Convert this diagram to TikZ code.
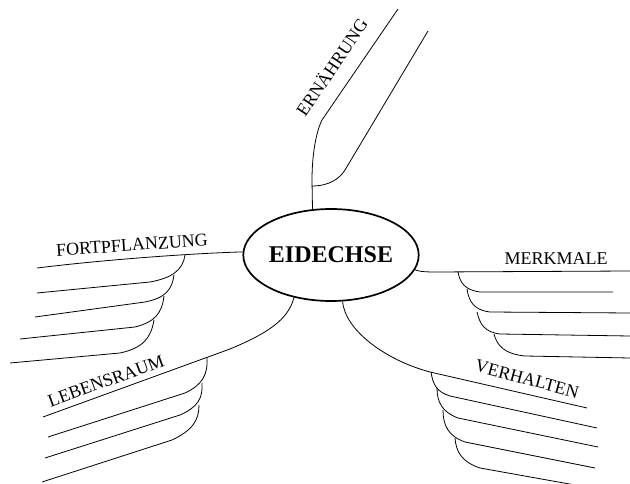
\documentclass[tikz,border=0pt]{standalone}
\usepackage{fontspec}
\setmainfont{Liberation Serif}
\usetikzlibrary{shapes.geometric}
\begin{document}
\begin{tikzpicture}[x=1pt,y=-1pt,
  branch/.style={line width=0.8pt,black},
  lbl/.style={font=\fontsize{18}{20}\selectfont,inner sep=0pt},
  hub/.style={ellipse,draw,line width=1.7pt,minimum width=158pt,minimum height=92pt,inner sep=0pt,font=\bfseries\fontsize{24}{26}\selectfont}]
\useasboundingbox (0,0) rectangle (630,484);
\fill[white] (0,0) rectangle (630,484);
\node[hub] (c) at (331,255) {EIDECHSE};

% labels
\node[lbl,rotate=56] (tE) at (331,67) {ERNÄHRUNG};
\node[lbl,rotate=4] (tF) at (132,245) {FORTPFLANZUNG};
\node[lbl,rotate=20] (tL) at (106,381) {LEBENSRAUM};
\node[lbl] (tM) at (556,259) {MERKMALE};
\node[lbl,rotate=-15] (tV) at (527,379) {VERHALTEN};

% coordinates
\coordinate (e0) at (312,186);
\coordinate (e1) at (428,31);
\coordinate (f1) at (185,255);
\coordinate (f2) at (174,275);
\coordinate (f3) at (164,296);
\coordinate (f4) at (154,320);
\coordinate (l1) at (207,358);
\coordinate (l2) at (202,383);
\coordinate (l3) at (199,405);
\coordinate (m1) at (458,272);
\coordinate (m2) at (467,289);
\coordinate (m3) at (477,312);
\coordinate (m4) at (494,334);
\coordinate (v1) at (431,372);
\coordinate (v2) at (437,388);
\coordinate (v3) at (443,410);
\coordinate (v4) at (455,438);

% Ernaehrung
\draw[branch] (c.112) -- (312,180) .. controls (312,155) and (316,132) .. (322,120) -- (398,9);
\draw[branch] (e0) .. controls (330,186) and (340,178) .. (345,170) -- (e1);

% Fortpflanzung
\draw[branch] (c.178) .. controls (200,253) and (110,259) .. (37,268);
\draw[branch] (f1) .. controls (183,270) and (172,278) .. (150,282) -- (37,293);
\draw[branch] (f2) .. controls (172,290) and (165,298) .. (145,302) -- (35,317);
\draw[branch] (f3) .. controls (162,313) and (155,322) .. (135,327) -- (20,339);
\draw[branch] (f4) .. controls (151,338) and (143,348) .. (120,353) -- (10,363);

% Lebensraum
\draw[branch] (c.229) .. controls (288,320) and (268,333) .. (230,349) -- (43,417);
\draw[branch] (l1) .. controls (208,375) and (202,385) .. (185,393) -- (48,437);
\draw[branch] (l2) .. controls (203,398) and (198,407) .. (180,415) -- (45,458);
\draw[branch] (l3) .. controls (199,420) and (193,430) .. (172,440) -- (42,482);

% Merkmale
\draw[branch] (c.-10) .. controls (418,271) and (422,272) .. (435,272) -- (630,271);
\draw[branch] (m1) .. controls (460,283) and (465,290) .. (480,292) -- (613,292);
\draw[branch] (m2) .. controls (469,302) and (474,310) .. (490,312) -- (630,313);
\draw[branch] (m3) .. controls (480,325) and (485,332) .. (500,334) -- (630,336);
\draw[branch] (m4) .. controls (497,346) and (505,354) .. (525,356) -- (630,358);

% Verhalten
\draw[branch] (c.-76) .. controls (345,330) and (385,360) .. (430,372) -- (587,408);
\draw[branch] (v1) .. controls (433,385) and (437,392) .. (450,396) -- (597,428);
\draw[branch] (v2) .. controls (437,402) and (442,412) .. (458,418) -- (598,447);
\draw[branch] (v3) .. controls (443,425) and (448,436) .. (465,442) -- (595,468);
\draw[branch] (v4) .. controls (456,452) and (462,462) .. (480,468) -- (575,485);
\end{tikzpicture}
\end{document}
